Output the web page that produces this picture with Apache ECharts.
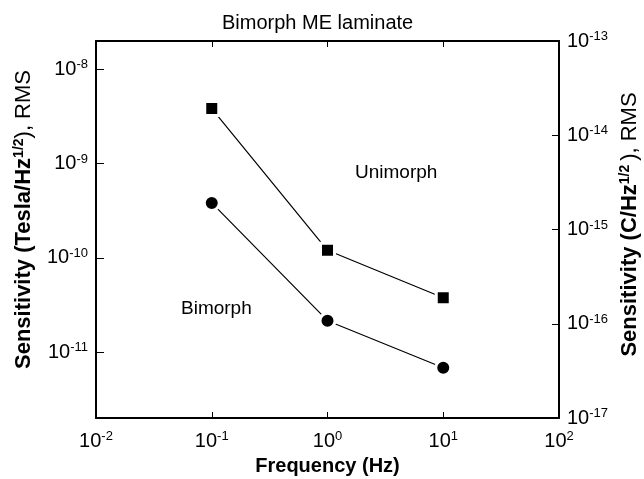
<!DOCTYPE html>
<html><head><meta charset="utf-8">
<script src="https://cdn.jsdelivr.net/npm/echarts@6/dist/echarts.min.js"></script>
<style>html,body{margin:0;padding:0;background:#fff}#c{width:644px;height:479px}</style>
</head><body><div id="c"></div>
<script>
// Data (frequency in Hz, sensitivity in Tesla/Hz^1/2 RMS)
const frequencies = [0.1, 1, 10];
const unimorphValues = [3.83e-9, 1.2e-10, 3.76e-11];
const bimorphValues = [3.82e-10, 2.15e-11, 6.8e-12];
const xTickValues = [0.01, 0.1, 1, 10, 100];
const leftTickValues = [1e-11, 1e-10, 1e-9, 1e-8];
const rightTickValues = [1e-17, 1e-16, 1e-15, 1e-14, 1e-13];
const titleText = 'Bimorph ME laminate';
const xName = 'Frequency (Hz)';
const unimorphLabel = 'Unimorph';
const bimorphLabel = 'Bimorph';

const FONT = "'Liberation Sans', Arial, Helvetica, sans-serif";
const pow10Rich = {
  b: { fontSize: 20, lineHeight: 22, fontFamily: FONT, color: '#000' },
  s: { fontSize: 13, lineHeight: 13, verticalAlign: 'top', fontFamily: FONT, color: '#000' }
};
function pow10Label(v) {
  const e = Math.round(Math.log10(v));
  return '{b|10}{s|' + e + '}';
}
function pairs(xs, ys) { return xs.map((x, i) => [x, ys[i]]); }
const nameRich = {
  b: { fontFamily: FONT, fontSize: 22, fontWeight: 'bold', color: '#000', lineHeight: 24 },
  s: { fontFamily: FONT, fontSize: 14, fontWeight: 'bold', color: '#000', lineHeight: 14, verticalAlign: 'top' },
  n: { fontFamily: FONT, fontSize: 22, fontWeight: 'normal', color: '#000', lineHeight: 24 }
};

const chart = echarts.init(document.getElementById('c'), null, { renderer: 'canvas' });
const axisLine = { show: true, lineStyle: { color: '#000', width: 2 } };
const tickStyle = { color: '#000', width: 1 };

chart.setOption({
  backgroundColor: '#fff',
  animation: false,
  title: {
    text: titleText, left: 217, top: 8,
    textStyle: { fontFamily: FONT, fontSize: 20, fontWeight: 'normal', color: '#000' }
  },
  grid: { left: 96, right: 85, top: 41, bottom: 61, outerBoundsMode: 'none', containLabel: false },
  xAxis: [
    {
      type: 'log', logBase: 10, min: 0.01, max: 100, position: 'bottom',
      axisLine: axisLine,
      axisTick: { show: true, inside: true, length: 6, lineStyle: tickStyle, customValues: xTickValues },
      axisLabel: { show: true, margin: 12, formatter: pow10Label, rich: pow10Rich, customValues: xTickValues, showMinLabel: true, showMaxLabel: true },
      splitLine: { show: false }, minorTick: { show: false },
      name: xName, nameLocation: 'middle', nameGap: 38, nameMoveOverlap: false,
      nameTextStyle: { fontFamily: FONT, fontSize: 20, fontWeight: 'bold', color: '#000' }
    },
    {
      type: 'log', logBase: 10, min: 0.01, max: 100, position: 'top',
      axisLine: axisLine,
      axisTick: { show: true, inside: true, length: 6, lineStyle: tickStyle, customValues: xTickValues },
      axisLabel: { show: false }, splitLine: { show: false }
    }
  ],
  yAxis: [
    {
      type: 'log', logBase: 10, min: Math.pow(10, -11.7), max: Math.pow(10, -7.7), position: 'left',
      axisLine: axisLine,
      axisTick: { show: true, inside: true, length: 8, lineStyle: tickStyle, customValues: leftTickValues },
      axisLabel: { show: true, margin: 8, formatter: pow10Label, rich: pow10Rich, customValues: leftTickValues },
      splitLine: { show: false },
      name: '{b|Sensitivity (Tesla/Hz}{s|1/2}{n|), RMS}',
      nameLocation: 'middle', nameRotate: 90, nameGap: 60, nameMoveOverlap: false,
      nameTextStyle: { rich: nameRich, padding: [0, 0, 0, 20] }
    },
    {
      type: 'log', logBase: 10, min: 1e-17, max: 1e-13, position: 'right',
      axisLine: axisLine,
      axisTick: { show: true, inside: true, length: 7, lineStyle: tickStyle, customValues: rightTickValues },
      axisLabel: { show: true, margin: 8, formatter: pow10Label, rich: pow10Rich, customValues: rightTickValues, showMinLabel: true, showMaxLabel: true },
      splitLine: { show: false },
      name: '{b|Sensitivity (C/Hz}{s|1/2 }{n|), RMS}',
      nameLocation: 'middle', nameRotate: 90, nameGap: 59, nameMoveOverlap: false,
      nameTextStyle: { rich: nameRich, padding: [0, 0, 0, 10] }
    }
  ],
  series: [
    {
      name: unimorphLabel, type: 'line', xAxisIndex: 0, yAxisIndex: 0,
      data: pairs(frequencies, unimorphValues),
      symbol: 'rect', symbolSize: 14,
      lineStyle: { color: '#000', width: 1.2 },
      itemStyle: { color: '#000', borderColor: '#fff', borderWidth: 3 },
      z: 3
    },
    {
      name: bimorphLabel, type: 'line', xAxisIndex: 0, yAxisIndex: 0,
      data: pairs(frequencies, bimorphValues),
      symbol: 'circle', symbolSize: 15,
      lineStyle: { color: '#000', width: 1.2 },
      itemStyle: { color: '#000', borderColor: '#fff', borderWidth: 3 },
      z: 3
    }
  ],
  graphic: [
    { type: 'text', left: 355, top: 163, style: { text: unimorphLabel, font: "19px " + FONT, fill: '#000' } },
    { type: 'text', left: 181, top: 299, style: { text: bimorphLabel, font: "19px " + FONT, fill: '#000' } }
  ]
});
</script>
</body></html>
